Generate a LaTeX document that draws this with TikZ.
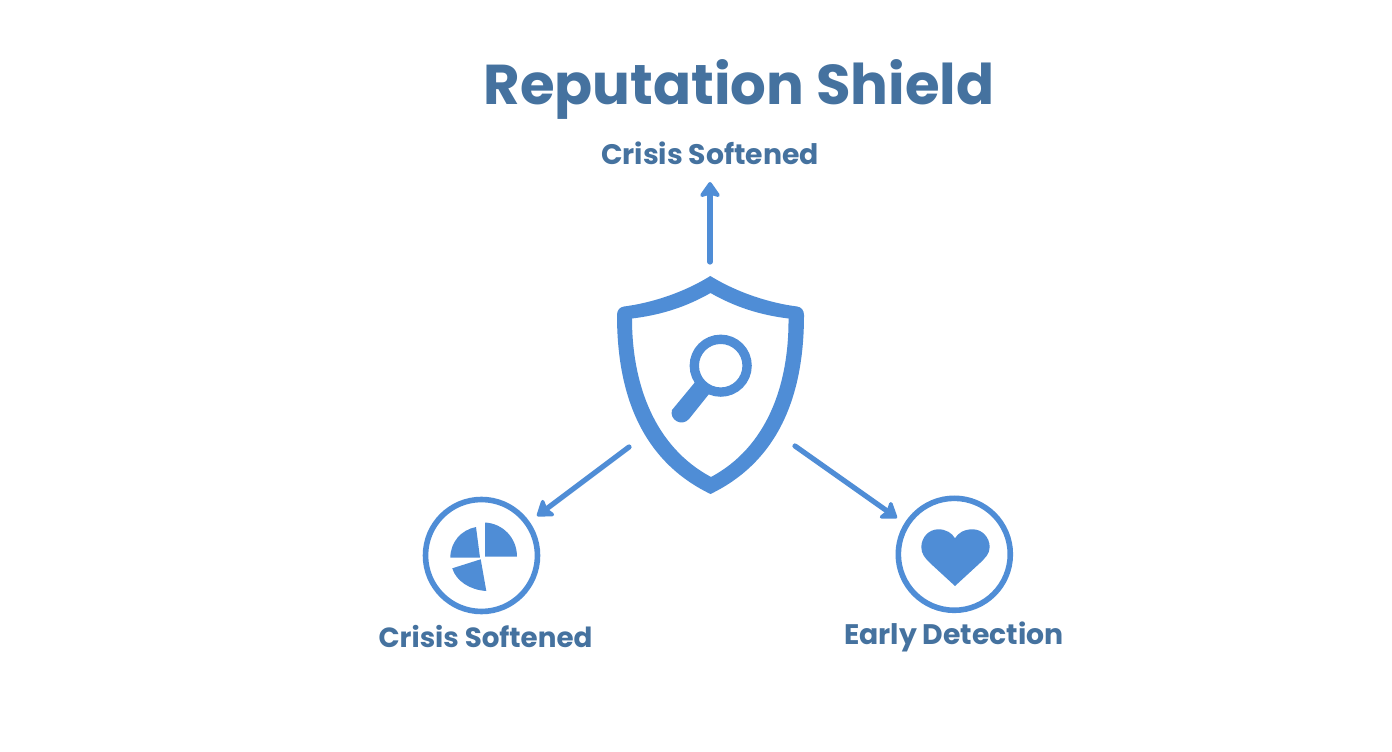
\documentclass[tikz,border=0pt]{standalone}
\usepackage{fontspec}
\setmainfont{Poppins}
\usetikzlibrary{arrows.meta}
\definecolor{iconblue}{HTML}{4F8DD6}
\definecolor{textblue}{HTML}{45729F}
\tikzset{
  titletext/.style={text=textblue,font=\bfseries\fontsize{42.1}{48}\selectfont,inner sep=0pt},
  labeltext/.style={text=textblue,font=\bfseries\fontsize{21.2}{24}\selectfont,inner sep=0pt},
  ring/.style={draw=iconblue,line width=4.2pt,circle,minimum size=84pt,inner sep=0pt},
  link/.style={draw=iconblue,line width=3.9pt,line cap=round,-{Stealth[length=13pt,width=18pt,inset=2.5pt,round]}},
  iconfill/.style={fill=iconblue,draw=none}
}
\begin{document}
\begin{tikzpicture}[x=0.75pt,y=-0.75pt]
\useasboundingbox (0,0) rectangle (1392,752);
\fill[white] (0,0) rectangle (1392,752);
% texts
\node[titletext] (title) at (739,89) {Reputation Shield};
\node[labeltext] (topl) at (710,153.5) {Crisis Softened};
\node[labeltext,font=\bfseries\fontsize{20.8}{24}\selectfont] (leftl) at (485.5,636.5) {Crisis Softened};
\node[labeltext] (rightl) at (954,637) {Early Detection};
% shield
\path[iconfill,even odd rule]
  (710.3,276) .. controls (738,293) and (770,303) .. (797,306.5)
  .. controls (801,307) and (804,310) .. (804,315)
  .. controls (804,385) and (785,458) .. (710.5,494)
  .. controls (636,458) and (617,385) .. (617,315)
  .. controls (617,310) and (620,307) .. (624,306.5)
  .. controls (651,303) and (683,293) .. (710.3,276) -- cycle
  (710.5,293) .. controls (735,307) and (760,315) .. (788.5,318.5)
  .. controls (789,385) and (767,447) .. (711,477)
  .. controls (655,447) and (632,385) .. (632,318.5)
  .. controls (661,315) and (686,307) .. (710.5,293) -- cycle;
\node[minimum width=140pt,minimum height=163pt,inner sep=0pt] (shield) at (710.5,385) {};
% magnifier
\draw[iconblue,line width=7pt] (720.7,365.7) circle (26.4);
\path[iconfill] (696,381) -- (709,394) -- (689,419) .. controls (682,427) and (669,420) .. (672,410) -- cycle;
% rings
\node[ring] (crisis) at (481.5,555.5) {};
\node[ring] (early) at (954.3,554.3) {};
% pie
\path[iconfill] (485,556.7) -- (485,522.5) .. controls (503,523.5) and (517,538) .. (517,556.7) -- cycle;
\path[iconfill] (480,557.7) -- (476,527) .. controls (461,530) and (450.5,542) .. (450.3,557.7) -- cycle;
\path[iconfill] (480.7,559.3) -- (452.3,568.3) .. controls (456,581) and (470,590) .. (486.3,591) -- cycle;
% heart
\path[iconfill] (955,586) -- (930,563)
  .. controls (925,558) and (921.3,554) .. (921.3,547)
  .. controls (921.5,537) and (929,529.3) .. (938.3,529.3)
  .. controls (946,529.3) and (952,533) .. (955,538.3)
  .. controls (958,533) and (964,529.3) .. (972.7,529.3)
  .. controls (982,529.3) and (989.5,537) .. (989.7,547)
  .. controls (989.7,554) and (985,558) .. (980,563) -- cycle;
% connectors
\coordinate (upstart) at (710,262);
\coordinate (uptip) at (710,182);
\coordinate (lstart) at (629,447);
\coordinate (ltip) at (537,516);
\coordinate (rstart) at (795,446);
\coordinate (rtip) at (897,518);
\draw[link] (upstart) -- (uptip);
\draw[link] (lstart) -- (ltip);
\draw[link] (rstart) -- (rtip);
\end{tikzpicture}
\end{document}
